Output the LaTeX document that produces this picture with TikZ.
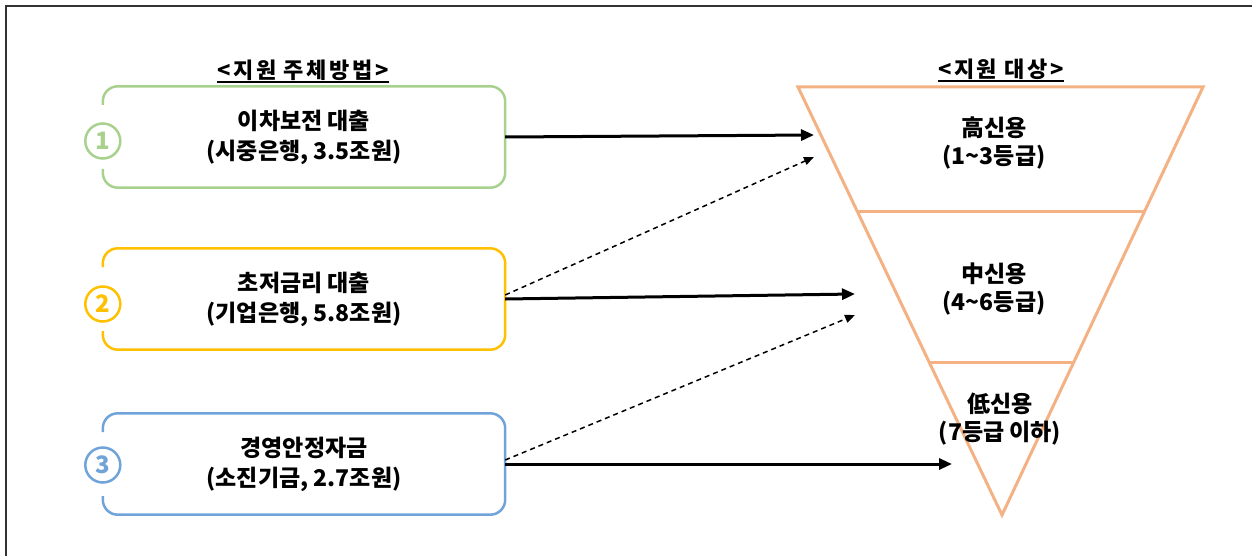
\documentclass[tikz,border=0pt]{standalone}
\usepackage{fontspec}
\newfontfamily\kr{Noto Sans CJK KR}
\newfontfamily\krwide{Noto Sans CJK KR}[LetterSpace=12]
\usetikzlibrary{arrows.meta,calc}
\definecolor{gbox}{RGB}{169,209,142}
\definecolor{ybox}{RGB}{255,192,0}
\definecolor{bbox}{RGB}{112,163,216}
\definecolor{otri}{RGB}{244,177,131}
\definecolor{framec}{RGB}{50,50,50}
\tikzset{
 boxtext/.style={minimum width=402pt, minimum height=101pt, inner sep=0pt, align=center, font=\kr\bfseries\fontsize{23}{30}\selectfont},
 boxline/.style={line width=2.5pt, rounded corners=15pt},
 numcircle/.style={circle, draw=#1, text=#1, line width=2.5pt, minimum size=35pt, inner sep=0pt, fill=white, font=\kr\bfseries\fontsize{24}{24}\selectfont},
 titletext/.style={inner sep=0pt, font=\krwide\bfseries\fontsize{22}{22}\selectfont},
 tier/.style={align=center, inner sep=0pt, font=\kr\bfseries\fontsize{23}{28}\selectfont},
 solidarrow/.style={line width=3pt, -{Triangle[length=13pt,width=11pt]}},
 dasharrow/.style={line width=1.5pt, dash pattern=on 5pt off 4pt, -{Triangle[length=10pt,width=8pt]}},
}
\begin{document}
\begin{tikzpicture}[x=1pt,y=-1pt]
\useasboundingbox (0,0) rectangle (1252,556);
% frame (only left and top visible)
\draw[framec, line width=2pt] (6,556) -- (6,6) -- (1252,6);

% titles
\node[titletext] (t1) at (303,70) {<지원 주체방법>};
\draw[line width=1.5pt] ([yshift=-4pt]t1.base west) -- ([yshift=-4pt]t1.base east);
\node[titletext] (t2) at (1001,69) {<지원 대상>};
\draw[line width=1.5pt] ([yshift=-4pt]t2.base west) -- ([yshift=-4pt]t2.base east);

% boxes
\node[boxtext] (b1) at (304,137) {이차보전 대출\\(시중은행, 3.5조원)};
\node[boxtext] (b2) at (304,299) {초저금리 대출\\(기업은행, 5.8조원)};
\node[boxtext] (b3) at (304,464) {경영안정자금\\(소진기금, 2.7조원)};
\foreach \b/\c in {b1/gbox,b2/ybox,b3/bbox}{
  \draw[boxline, draw=\c] ([yshift=-32pt]\b.west) -- (\b.south west) -- (\b.south east)
     -- (\b.north east) -- (\b.north west) -- ([yshift=32pt]\b.west);
}
\node[numcircle=gbox] (n1) at ([yshift=-4pt]b1.west) {1};
\node[numcircle=ybox] (n2) at ([yshift=-5pt]b2.west) {2};
\node[numcircle=bbox] (n3) at ([yshift=-1pt]b3.west) {3};

% inverted triangle
\coordinate (tl) at (798,87);
\coordinate (tr) at (1203,87);
\coordinate (ap) at (1002,515);
\coordinate (d1l) at ($(tl)!{125/428}!(ap)$);
\coordinate (d1r) at ($(tr)!{125/428}!(ap)$);
\coordinate (d2l) at ($(tl)!{276/428}!(ap)$);
\coordinate (d2r) at ($(tr)!{276/428}!(ap)$);
\draw[otri, line width=3pt, line join=miter] (tl) -- (tr) -- (ap) -- cycle;
\draw[otri, line width=3pt] (d1l) -- (d1r);
\draw[otri, line width=3pt] (d2l) -- (d2r);

\node[tier] (hi) at (994,143) {高신용\\(1\textasciitilde3등급)};
\node[tier] (mid) at (994,289) {中신용\\(4\textasciitilde6등급)};
\node[tier] (lo) at (1000,419) {低신용\\(7등급 이하)};

% arrow targets
\coordinate (a1) at (814,135);
\coordinate (a1d) at (814,157);
\coordinate (a2) at (855,294);
\coordinate (a2d) at (855,315);
\coordinate (a3) at (952,464);

\draw[solidarrow] (b1.east) -- (a1);
\draw[dasharrow] ([yshift=4pt]b2.east) -- (a1d);
\draw[solidarrow] (b2.east) -- (a2);
\draw[dasharrow] ([yshift=4pt]b3.east) -- (a2d);
\draw[solidarrow] (b3.east) -- (a3);
\end{tikzpicture}
\end{document}
